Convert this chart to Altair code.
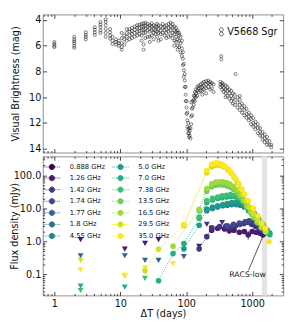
import altair as alt
import pandas as pd

# ---------------- top panel: optical light curve ----------------
lc_label = "V5668 Sgr"
lc_days = [1.0, 2.0, 3.0, 4.1, 5.0, 6.0, 7.0, 7.6, 8.6, 9.5,
           10.5, 11.5, 12.5, 13.8, 15.0, 16.5, 18.0, 19.5, 21.0, 22.5,
           24.0, 26.0, 28.0, 30.0, 32.0, 34.0, 36.0, 38.0, 41.0, 44.0,
           47.0, 50.0, 54.0, 58.0, 62.0, 66.0, 70.0, 74.0, 78.0, 82.0,
           86.0, 89.0, 92.0, 95.0, 98.0, 101.0, 104.0, 107.0, 110.0, 113.0,
           116.0, 119.0, 122.0, 125.0, 130.0, 135.0, 140.0, 147.0, 155.0, 165.0,
           175.0, 185.0, 200.0, 215.0, 230.0, 245.0, 260.0, 330.0, 340.0, 350.0,
           370.0, 395.0, 420.0, 450.0, 480.0, 510.0, 545.0, 560.0, 600.0, 650.0,
           700.0, 760.0, 820.0, 890.0, 960.0, 1040.0, 1120.0, 1220.0, 1320.0, 1430.0,
           1550.0, 1680.0, 1820.0, 1950.0]
lc_mags = [
    [5.7, 5.85, 6.0, 6.1], [5.3, 5.5, 5.65, 5.8, 6.0, 6.15], [4.95, 5.15, 5.3, 5.5],
    [4.55, 4.75, 4.95, 5.15], [4.15, 4.35, 4.55, 4.8, 5.0], [3.95, 4.15, 4.4, 4.7, 5.0, 5.3],
    [4.7, 4.95, 5.2, 5.45], [5.3, 5.6, 5.85], [5.5, 5.7, 5.9], [5.6, 5.8, 6.0],
    [5.0, 5.4, 5.8, 6.1, 6.3], [5.2, 5.5, 5.9], [4.7, 5.0, 5.3, 5.6], [4.7, 4.9, 5.2, 5.5],
    [4.6, 4.85, 5.1, 5.4], [4.5, 4.75, 5.0, 5.3], [4.4, 4.6, 4.9, 5.2], [4.35, 4.6, 4.85, 5.1],
    [4.3, 4.5, 4.8, 5.2, 5.6], [4.25, 4.5, 4.75, 5.0, 5.9, 6.3],
    [4.2, 4.45, 4.7, 5.0, 5.4], [4.3, 4.5, 4.8, 5.3], [4.4, 4.6, 4.9, 5.3, 5.7], [4.25, 4.5, 4.8, 5.2],
    [4.4, 4.7, 5.0, 5.5], [4.5, 4.8, 5.1], [4.3, 4.55, 4.9, 5.3], [4.4, 4.7, 5.0, 5.6],
    [4.5, 4.8, 5.1, 5.5], [4.3, 4.6, 5.0],
    [4.5, 4.8, 5.2], [4.4, 4.7, 5.0, 5.4], [4.3, 4.6, 4.9, 5.3], [4.2, 4.5, 4.8, 5.2],
    [4.3, 4.6, 5.0, 5.4], [4.5, 4.8, 5.1, 5.6, 6.0], [4.6, 4.9, 5.3, 5.7], [4.8, 5.0, 5.5, 6.0, 6.3],
    [5.0, 5.2, 5.6, 6.1], [5.3, 5.8, 6.5],
    [5.6, 6.2, 6.8], [6.5, 7.0, 7.5], [7.4, 7.9, 8.4], [8.2, 8.7, 9.2], [9.2, 9.8, 10.3],
    [10.3, 10.8, 11.3], [11.2, 11.8, 12.3], [12.0, 12.5, 12.8], [12.4, 12.8, 13.1], [12.6, 13.0],
    [12.4, 13.2], [11.5, 12.1, 10.4], [10.9, 11.4], [10.3, 10.8], [9.9, 10.2, 10.6],
    [9.6, 9.9, 10.3], [9.4, 9.7, 10.0], [9.2, 9.5, 9.9], [9.1, 9.3, 9.6], [9.0, 9.25, 9.5],
    [8.9, 9.2, 9.5, 9.8], [8.8, 9.1, 9.4], [8.75, 9.0, 9.3, 9.7], [8.7, 8.9, 9.2], [8.8, 9.0, 9.4],
    [8.9, 9.3], [9.0, 9.6], [8.8, 9.0, 9.2], [6.8, 7.05], [8.9, 9.1, 9.4],
    [9.0, 9.3, 9.6], [9.1, 9.4, 9.7, 10.0], [9.2, 9.5, 9.9], [9.4, 9.7, 10.1], [9.5, 9.9, 10.3],
    [9.7, 10.1, 10.5], [9.8, 10.2, 10.6], [8.2], [10.0, 10.4, 10.8], [9.9, 10.2, 10.6, 11.0],
    [10.5, 10.8, 11.2], [10.7, 11.0, 11.4], [10.9, 11.3, 11.6], [11.2, 11.5, 11.8], [11.4, 11.7, 12.1],
    [11.6, 12.0, 12.3], [11.9, 12.2, 12.5], [12.1, 12.4, 12.8], [12.4, 12.7, 13.0], [12.7, 13.0, 13.3],
    [12.9, 13.2, 13.5], [13.1, 13.4, 13.7], [13.4, 13.7], [13.7, 13.9],
]

# ---------------- bottom panel: radio light curves ----------------
freq_labels = ["0.888 GHz", "1.26 GHz", "1.42 GHz", "1.74 GHz", "1.77 GHz", "1.8 GHz", "4.55 GHz",
               "5.0 GHz", "7.0 GHz", "7.38 GHz", "13.5 GHz", "16.5 GHz", "29.5 GHz", "35.0 GHz"]
freq_colors = ["#440154", "#481c6e", "#463480", "#3e4a89", "#34618d", "#2c738e", "#24878e",
               "#1f9a8a", "#26ad81", "#40bd72", "#6ccd5a", "#9dd93b", "#cde11d", "#fde725"]

det_days = {
    "0.888 GHz": [1500],
    "1.26 GHz": [243, 300, 380, 450, 530, 640, 760, 870, 1000, 1150, 1300, 1450],
    "1.42 GHz": [157, 205, 243, 320, 400, 480, 560, 650, 750, 850, 980, 1120, 1280, 1420],
    "1.74 GHz": [420, 520, 640, 780, 900, 1050, 1200, 1350],
    "4.55 GHz": [205, 250, 300, 360, 420, 490, 570, 660, 760, 880, 1020, 1180, 1380],
    "5.0 GHz": [92, 157, 205, 250, 300, 360, 420, 490, 570, 660, 760, 880, 1020, 1180, 1380, 1600, 1850],
    "7.0 GHz": [38, 63, 92, 157, 205, 250, 300, 350, 410, 470, 540, 620, 710, 820, 940, 1080, 1250, 1450, 1700, 1850],
    "7.38 GHz": [157, 205, 250, 300, 350, 410, 470, 540, 620, 710, 820, 940, 1080, 1250, 1450, 1650],
    "13.5 GHz": [157, 205, 243, 280, 320, 360, 410, 460, 520, 590, 660, 740, 830, 940, 1060, 1200, 1380],
    "16.5 GHz": [63, 157, 205, 243, 280, 320, 360, 410, 460, 520, 590, 660, 740, 830, 940, 1060, 1200, 1380, 1580],
    "29.5 GHz": [23.7, 38, 92, 205, 243, 270, 300, 340, 380, 430, 480, 530, 590, 650, 720, 800, 900, 1040, 1200, 1400, 1600],
    "35.0 GHz": [92, 205, 243, 270, 290, 315, 340, 370, 400, 440, 480, 520, 560, 630, 700, 770, 870, 1040, 1230, 1400, 1600, 1800],
}
det_flux = {
    "0.888 GHz": [1.7],
    "1.26 GHz": [2.2, 2.5, 2.4, 2.1, 2.2, 1.9, 2.0, 1.6, 2.0, 1.9, 1.8, 1.6],
    "1.42 GHz": [0.6, 1.4, 2.6, 2.8, 2.9, 2.7, 3.0, 3.3, 3.5, 3.8, 3.3, 2.9, 2.5, 2.2],
    "1.74 GHz": [3.0, 3.3, 3.6, 3.9, 4.2, 4.5, 3.8, 3.0],
    "4.55 GHz": [8.5, 10, 11, 12, 12.5, 13, 13, 12.5, 11, 8.5, 6.3, 4.5, 3.2],
    "5.0 GHz": [0.6, 3.1, 9.5, 11, 12, 13, 14, 15, 15.5, 15, 13, 10, 7.5, 5.2, 3.6, 2.5, 1.8],
    "7.0 GHz": [0.065, 0.43, 0.87, 5.0, 15, 18, 20, 21, 22, 23, 23, 21, 18, 14, 10, 7, 4.8, 3.3, 2.2, 1.6],
    "7.38 GHz": [5.5, 17, 20, 22, 24, 25, 26, 25, 22, 17, 12, 8.5, 6, 4, 2.8, 1.9],
    "13.5 GHz": [8.5, 33, 45, 50, 52, 51, 48, 44, 38, 30, 22, 16, 11, 7.5, 5.2, 3.7, 2.6],
    "16.5 GHz": [0.72, 9.4, 40, 55, 62, 64, 63, 60, 54, 46, 36, 26, 18, 12, 8, 5.5, 3.8, 2.7, 2.0],
    "29.5 GHz": [0.13, 0.59, 3.0, 120, 180, 200, 205, 195, 175, 145, 115, 85, 60, 40, 27, 17, 11, 7, 4.5, 3.0, 2.0],
    "35.0 GHz": [3.3, 139, 215, 232, 235, 230, 218, 200, 178, 150, 122, 100, 80, 55, 38, 27, 17, 10, 6, 3.6, 2.5, 1.0],
}
det_err = {
    "0.888 GHz": [0.25],
    "1.26 GHz": [0.4, 0.35, 0.3, 0.3, 0.3, 0.3, 0.3, 0.45, 0.3, 0.3, 0.3, 0.3],
    "1.42 GHz": [0.1, 0.2, 0.3, 0.3, 0.3, 0.3, 0.3, 0.3, 0.3, 0.35, 0.3, 0.3, 0.3, 0.3],
    "1.74 GHz": [0.3, 0.3, 0.3, 0.35, 0.35, 0.4, 0.35, 0.3],
}
lim_days = {
    "1.26 GHz": [2.5, 11.7, 23.7, 38, 157],
    "1.42 GHz": [205, 243, 350],
    "1.77 GHz": [2.5, 11.7, 23.7, 38, 92],
    "7.0 GHz": [2.5, 11.7],
    "7.38 GHz": [2.5, 23.7],
    "29.5 GHz": [2.5, 11.7],
    "35.0 GHz": [2.5, 11.7, 23.7, 63],
}
lim_flux = {
    "1.26 GHz": [1.14, 0.59, 0.88, 1.14, 0.72],
    "1.42 GHz": [3.3, 2.5, 3.7],
    "1.77 GHz": [0.37, 0.37, 0.27, 0.27, 0.35],
    "7.0 GHz": [0.045, 0.042],
    "7.38 GHz": [0.033, 0.077],
    "29.5 GHz": [0.27, 0.088],
    "35.0 GHz": [0.14, 0.095, 0.16, 0.21],
}
racs_band = [1410, 1680]
racs_label = "RACS-low"
racs_label_pos = [850, 0.094]
racs_pointer = [[880, 0.135], [1480, 1.55]]

# ---------------- axes / ticks ----------------
X_DOMAIN = [0.667, 2950]
MAG_DOMAIN = [3.56, 14.3]
FLUX_DOMAIN = [0.0235, 373]
x_major = [1, 10, 100, 1000]
x_minor = [0.7, 0.8, 0.9] + [m * 10 ** e for e in (0, 1, 2) for m in range(2, 10)] + [2000]
mag_major = [4, 6, 8, 10, 12, 14]
flux_major = [0.1, 1, 10, 100]
flux_minor = [m / 100 for m in range(3, 10)] + [m * 10.0 ** e for e in (-1, 0, 1) for m in range(2, 10)] + [200, 300]

FONT = "DejaVu Sans"
INK = "#111111"
W = 249


def make_axis(orient, values, size, labels=False, fmt=None, label_pad=2, title=None, title_pad=0):
    kw = dict(orient=orient, values=values, tickSize=size, offset=-size, domain=False, grid=False,
              ticks=True, tickColor=INK, tickWidth=0.8, labels=labels, title=title)
    if labels:
        kw.update(labelFontSize=10, labelColor=INK, labelPadding=label_pad, labelFlush=False,
                  labelOverlap=False, labelFont=FONT)
        if fmt is not None:
            kw["format"] = fmt
    if title is not None:
        kw.update(titleFontSize=10, titleFontWeight="normal", titleColor=INK,
                  titlePadding=title_pad, titleFont=FONT)
    return alt.Axis(**kw)


def axis_layers(df, xf, yf, xs, ys, xaxes, yaxes):
    base = alt.Chart(df).mark_point(opacity=0)
    out = []
    for xa, ya in zip(xaxes, yaxes):
        enc = {"x": alt.X(xf, type="quantitative", scale=xs, axis=xa)}
        if ya is not None:
            enc["y"] = alt.Y(yf, type="quantitative", scale=ys, axis=ya)
        else:
            enc["y"] = alt.Y(yf, type="quantitative", scale=ys, axis=None)
        out.append(base.encode(**enc))
    return out


# ---------------- top panel ----------------
lc_rows = [{"day": d, "mag": m, "lbl": lc_label} for d, ms in zip(lc_days, lc_mags) for m in ms]
lc_df = pd.DataFrame(lc_rows)
xs_top = alt.Scale(type="log", domain=X_DOMAIN, nice=False)
ys_top = alt.Scale(domain=MAG_DOMAIN, reverse=True, nice=False, zero=False)

two_circles = ("M-0.45,-0.5A0.45,0.45,0,1,0,0.45,-0.5A0.45,0.45,0,1,0,-0.45,-0.5Z"
               "M-0.45,0.5A0.45,0.45,0,1,0,0.45,0.5A0.45,0.45,0,1,0,-0.45,0.5Z")
top_legend = alt.Legend(title=None, orient="none", legendX=180, legendY=13, symbolType=two_circles,
                        symbolSize=79, symbolStrokeWidth=0.6, labelFontSize=10, labelFont=FONT,
                        labelColor=INK, labelOffset=1, padding=0)
lc_pts = alt.Chart(lc_df).mark_point(size=10, strokeWidth=0.5, filled=False, opacity=1).encode(
    x=alt.X("day:Q", scale=xs_top, axis=None),
    y=alt.Y("mag:Q", scale=ys_top, axis=None),
    color=alt.Color("lbl:N", scale=alt.Scale(domain=[lc_label], range=["black"]), legend=top_legend),
)
top_axes = axis_layers(
    lc_df, "day", "mag", xs_top, ys_top,
    [make_axis("bottom", x_major, 4), make_axis("bottom", x_minor, 2),
     make_axis("top", x_major, 4), make_axis("top", x_minor, 2)],
    [make_axis("left", mag_major, 4, labels=True, fmt="d", label_pad=2,
               title="Visual Brightness (mag)", title_pad=8),
     None, make_axis("right", mag_major, 4), None],
)
top = alt.layer(lc_pts, *top_axes).resolve_axis(x="independent", y="independent").properties(
    width=W, height=143)

# ---------------- bottom panel ----------------
det_rows, err_rows, lim_rows = [], [], []
for f in freq_labels:
    for i, (d, v) in enumerate(zip(det_days.get(f, []), det_flux.get(f, []))):
        det_rows.append({"day": d, "flux": v, "freq": f})
        if f in det_err:
            e = det_err[f][i]
            err_rows.append({"day": d, "lo": v - e, "hi": v + e, "freq": f})
    for d, v in zip(lim_days.get(f, []), lim_flux.get(f, [])):
        lim_rows.append({"day": d, "flux": v, "freq": f})
det_df = pd.DataFrame(det_rows)
err_df = pd.DataFrame(err_rows)
lim_df = pd.DataFrame(lim_rows)
band_df = pd.DataFrame([{"x0": racs_band[0], "x1": racs_band[1]}])
ptr_df = pd.DataFrame([{"x0": racs_pointer[0][0], "y0": racs_pointer[0][1],
                        "x1": racs_pointer[1][0], "y1": racs_pointer[1][1]}])
txt_df = pd.DataFrame([{"x": racs_label_pos[0], "y": racs_label_pos[1], "t": racs_label}])

xs_bot = alt.Scale(type="log", domain=X_DOMAIN, nice=False)
ys_bot = alt.Scale(type="log", domain=FLUX_DOMAIN, nice=False)
cscale = alt.Scale(domain=freq_labels, range=freq_colors)

line_circle = ("M-3.4,0H-3.0M-2.6,0H-2.2M-1.8,0H-1.4M1.4,0H1.8M2.2,0H2.6M3.0,0H3.4"
               "M-1.1,0A1.1,1.1,0,1,0,1.1,0A1.1,1.1,0,1,0,-1.1,0Z")
bot_legend = alt.Legend(title=None, orient="none", legendX=6, legendY=7, columns=2,
                        symbolType=line_circle, symbolSize=25, symbolStrokeWidth=0.9,
                        labelFontSize=7, labelFont=FONT, labelColor=INK, labelOffset=15,
                        columnPadding=5, rowPadding=1, padding=0, symbolOpacity=1)
C = alt.Color("freq:N", scale=cscale, legend=bot_legend)
X = alt.X("day:Q", scale=xs_bot, axis=None)
Y = alt.Y("flux:Q", scale=ys_bot, axis=None)

band = alt.Chart(band_df).mark_rect(color="#e4e4e4").encode(
    x=alt.X("x0:Q", scale=xs_bot, axis=None), x2="x1:Q")
tris = alt.Chart(lim_df).mark_point(shape="triangle-down", filled=True, size=38, opacity=1).encode(
    x=X, y=Y, color=C)
lines = alt.Chart(det_df).mark_line(strokeDash=[1, 1.5], strokeWidth=0.9).encode(
    x=X, y=Y, color=C, order="day:Q")
errs = alt.Chart(err_df).mark_rule(strokeWidth=1).encode(
    x=X, y=alt.Y("lo:Q", scale=ys_bot, axis=None), y2="hi:Q", color=C)
circs = alt.Chart(det_df).mark_circle(size=34, opacity=1).encode(x=X, y=Y, color=C)
ptr = alt.Chart(ptr_df).mark_rule(color="#222222", strokeWidth=0.8).encode(
    x=alt.X("x0:Q", scale=xs_bot, axis=None), y=alt.Y("y0:Q", scale=ys_bot, axis=None),
    x2="x1:Q", y2="y1:Q")
txt = alt.Chart(txt_df).mark_text(fontSize=8, color="#222222", font=FONT).encode(
    x=alt.X("x:Q", scale=xs_bot, axis=None), y=alt.Y("y:Q", scale=ys_bot, axis=None), text="t:N")

bot_axes = axis_layers(
    det_df, "day", "flux", xs_bot, ys_bot,
    [make_axis("bottom", x_major, 4, labels=True, fmt="d", label_pad=3, title="ΔT (days)", title_pad=1),
     make_axis("bottom", x_minor, 2), make_axis("top", x_major, 4), make_axis("top", x_minor, 2)],
    [make_axis("left", flux_major, 4, labels=True, fmt=".1f", label_pad=2,
               title="Flux density (mJy)", title_pad=-6),
     make_axis("left", flux_minor, 2), make_axis("right", flux_major, 4), make_axis("right", flux_minor, 2)],
)
bottom = alt.layer(band, tris, lines, errs, circs, ptr, txt, *bot_axes).resolve_axis(
    x="independent", y="independent").properties(width=W, height=144)

chart = alt.vconcat(top, bottom, spacing=4, bounds="flush").resolve_scale(
    x="independent", y="independent", color="independent"
).properties(
    padding={"left": 0, "top": 0, "right": 4, "bottom": 0}
).configure(font=FONT).configure_view(stroke="#8c8c8c", strokeWidth=1)

chart.save("out.html", embed_options={"renderer": "svg", "actions": False})
